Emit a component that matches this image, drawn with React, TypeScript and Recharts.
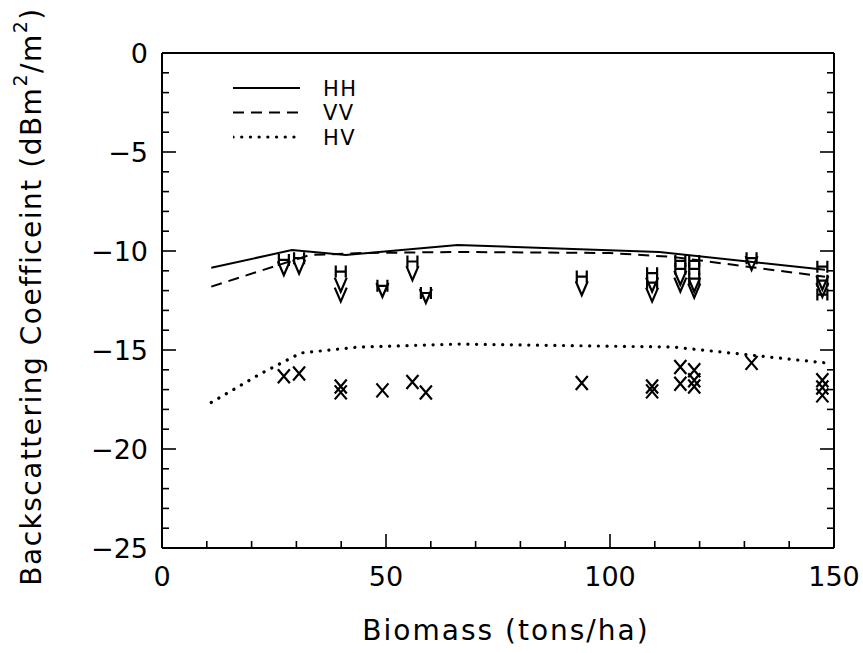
import React from 'react';
import { ComposedChart, Line, Scatter, XAxis, YAxis, Legend, Label } from 'recharts';

// axis ticks
const xTicks = [0, 10, 20, 30, 40, 50, 60, 70, 80, 90, 100, 110, 120, 130, 140, 150];
const xLabels = [0, 50, 100, 150];
const yTicks = Array.from({ length: 26 }, (_, i) => i - 25);
const yLabels = [-25, -20, -15, -10, -5, 0];

// model curves [biomass, sigma0]
const hhCurve = [[11, -10.85], [29, -9.95], [41, -10.2], [66, -9.7], [111, -10.05], [148, -10.95]];
const vvCurve = [[11, -11.8], [33, -10.2], [45, -10.1], [66, -10.05], [100, -10.1], [114, -10.3], [148, -11.3]];
const hvCurve = [[11, -17.65], [22, -16.2], [31, -15.15], [44, -14.85], [66, -14.7], [114, -14.85], [129, -15.2], [148, -15.65]];

// measurements
const hhPoints = [
  [27.2, -10.45], [30.6, -10.36], [39.9, -11.04], [49.2, -11.76], [55.9, -10.53], [58.9, -12.12],
  [93.7, -11.29], [109.4, -11.12], [109.4, -11.6], [115.7, -10.5], [115.7, -10.9], [118.8, -10.5],
  [118.8, -10.9], [118.8, -11.4], [131.6, -10.36], [147.4, -10.79], [147.4, -11.5], [147.4, -12.2],
];
const vvPoints = [
  [27.2, -10.87], [30.6, -10.79], [39.9, -11.7], [39.9, -12.2], [49.2, -11.97], [55.9, -11.12],
  [58.9, -12.27], [93.7, -11.88], [109.4, -11.7], [109.4, -12.2], [115.7, -11.35], [115.7, -11.7],
  [118.8, -11.7], [118.8, -12.0], [131.6, -10.61], [147.4, -11.6], [147.4, -11.97],
];
const hvPoints = [
  [27.2, -16.33], [30.6, -16.19], [39.9, -16.84], [39.9, -17.14], [49.2, -17.04], [55.9, -16.62],
  [58.9, -17.15], [93.7, -16.67], [109.4, -16.84], [109.4, -17.09], [115.7, -15.86], [115.7, -16.7],
  [118.8, -16.02], [118.8, -16.53], [118.8, -16.84], [131.6, -15.65], [147.4, -16.53], [147.4, -16.89],
  [147.4, -17.29],
];

const seriesNames = ['HH', 'VV', 'HV'];

const toXY = (pts: number[][]) => pts.map(([x, y]) => ({ x, y }));

const font = 'DejaVu Sans, sans-serif';

const lineStyles: Record<string, { dash?: string; width: number; cap: 'butt' | 'round' }> = {
  HH: { width: 2, cap: 'butt' },
  VV: { dash: '11 7', width: 2, cap: 'butt' },
  HV: { dash: '0.1 8.6', width: 3.2, cap: 'round' },
};

const minor = 7;
const major = 14;

const BottomTick = ({ x, y, payload }: any) => {
  const big = xLabels.includes(payload.value);
  return (
    <g>
      <line x1={x} x2={x} y1={y} y2={y - (big ? major : minor)} stroke="#000" strokeWidth={1.6} />
      {big && (
        <text x={x} y={y + 38} textAnchor="middle" fontSize={27} fontFamily={font} fill="#000">
          {payload.value}
        </text>
      )}
    </g>
  );
};

const TopTick = ({ x, y, payload }: any) => {
  const big = xLabels.includes(payload.value);
  return <line x1={x} x2={x} y1={y} y2={y + (big ? major : minor)} stroke="#000" strokeWidth={1.6} />;
};

const LeftTick = ({ x, y, payload }: any) => {
  const big = yLabels.includes(payload.value);
  const v = payload.value;
  return (
    <g>
      <line x1={x} x2={x + (big ? major : minor)} y1={y} y2={y} stroke="#000" strokeWidth={1.6} />
      {big && (
        <text x={x - 14} y={y + 10} textAnchor="end" fontSize={27} fontFamily={font} fill="#000">
          {v < 0 ? `\u2212${Math.abs(v)}` : v}
        </text>
      )}
    </g>
  );
};

const RightTick = ({ x, y, payload }: any) => {
  const big = yLabels.includes(payload.value);
  return <line x1={x} x2={x - (big ? major : minor)} y1={y} y2={y} stroke="#000" strokeWidth={1.6} />;
};

const markH = (p: any) => (
  <path
    d={`M${p.cx - 5},${p.cy - 6}v12M${p.cx + 5},${p.cy - 6}v12M${p.cx - 5},${p.cy}h10`}
    stroke="#000"
    strokeWidth={2.2}
    fill="none"
  />
);
const markV = (p: any) => (
  <path d={`M${p.cx - 6},${p.cy - 7}L${p.cx},${p.cy + 7}L${p.cx + 6},${p.cy - 7}`} stroke="#000" strokeWidth={2.2} fill="none" />
);
const markX = (p: any) => (
  <path
    d={`M${p.cx - 6},${p.cy - 7}L${p.cx + 6},${p.cy + 7}M${p.cx + 6},${p.cy - 7}L${p.cx - 6},${p.cy + 7}`}
    stroke="#000"
    strokeWidth={2.2}
    fill="none"
  />
);

const YTitle = ({ viewBox }: any) => {
  const cx = viewBox.x + viewBox.width - 131;
  const cy = viewBox.y + viewBox.height / 2 - 4;
  return (
    <text
      x={cx}
      y={cy}
      transform={`rotate(-90 ${cx} ${cy})`}
      textAnchor="middle"
      fontSize={28}
      letterSpacing={1.5}
      fontFamily={font}
      fill="#000"
      dominantBaseline="central"
    >
      Backscattering Coefficeint (dBm
      <tspan dy={-11} fontSize={19}>2</tspan>
      <tspan dy={11}>/m</tspan>
      <tspan dy={-11} fontSize={19}>2</tspan>
      <tspan dy={11}>)</tspan>
    </text>
  );
};

const XTitle = ({ viewBox }: any) => (
  <text
    x={viewBox.x + viewBox.width / 2 + 8}
    y={viewBox.y + 92}
    textAnchor="middle"
    fontSize={28}
    letterSpacing={2}
    fontFamily={font}
    fill="#000"
  >
    Biomass (tons/ha)
  </text>
);

const LegendBox = ({ payload }: any) => {
  const items = (payload || [])
    .filter((e: any) => seriesNames.includes(e.value))
    .sort((a: any, b: any) => seriesNames.indexOf(a.value) - seriesNames.indexOf(b.value));
  return (
    <svg width={200} height={80}>
      {items.map((e: any, i: number) => {
        const cy = 12 + i * 24.5;
        const s = lineStyles[e.value];
        return (
          <g key={e.value}>
            <line
              x1={0}
              x2={67}
              y1={cy}
              y2={cy}
              stroke="#000"
              strokeWidth={s.width}
              strokeDasharray={s.dash}
              strokeLinecap={s.cap}
            />
            <text x={90} y={cy + 7.5} fontSize={21} letterSpacing={1.5} fontFamily={font} fill="#000">
              {e.value}
            </text>
          </g>
        );
      })}
    </svg>
  );
};

const App = () => {
  const axisLine = { stroke: '#000', strokeWidth: 2 };
  const curves: [string, number[][]][] = [
    ['HH', hhCurve],
    ['VV', vvCurve],
    ['HV', hvCurve],
  ];
  return (
    <div style={{ position: 'absolute', left: 0, top: 0, width: 863, height: 653, background: '#fff' }}>
      <ComposedChart width={863} height={653} margin={{ top: 33, right: 19, bottom: 45, left: 82 }}>
        <XAxis
          type="number"
          dataKey="x"
          domain={[0, 150]}
          ticks={xTicks}
          interval={0}
          height={60}
          tickSize={0}
          tickMargin={0}
          tickLine={false}
          axisLine={axisLine}
          tick={<BottomTick />}
          allowDataOverflow
        >
          <Label content={XTitle} />
        </XAxis>
        <XAxis
          xAxisId="top"
          orientation="top"
          type="number"
          domain={[0, 150]}
          ticks={xTicks}
          interval={0}
          height={20}
          tickSize={0}
          tickMargin={0}
          tickLine={false}
          axisLine={axisLine}
          tick={<TopTick />}
          allowDataOverflow
        />
        <YAxis
          type="number"
          dataKey="y"
          domain={[-25, 0]}
          ticks={yTicks}
          interval={0}
          width={80}
          tickSize={0}
          tickMargin={0}
          tickLine={false}
          axisLine={axisLine}
          tick={<LeftTick />}
          allowDataOverflow
        >
          <Label content={YTitle} />
        </YAxis>
        <YAxis
          yAxisId="right"
          orientation="right"
          type="number"
          domain={[-25, 0]}
          ticks={yTicks}
          interval={0}
          width={10}
          tickSize={0}
          tickMargin={0}
          tickLine={false}
          axisLine={axisLine}
          tick={<RightTick />}
          allowDataOverflow
        />
        <Legend
          layout="vertical"
          align="center"
          verticalAlign="middle"
          content={LegendBox}
          wrapperStyle={{ position: 'absolute', left: 233, top: 76, width: 200, height: 80 }}
        />
        {curves.map(([name, pts]) => (
          <Line
            key={name}
            name={name}
            data={toXY(pts)}
            dataKey="y"
            type="linear"
            stroke="#000"
            strokeWidth={lineStyles[name].width}
            strokeDasharray={lineStyles[name].dash}
            strokeLinecap={lineStyles[name].cap}
            dot={false}
            activeDot={false}
            isAnimationActive={false}
          />
        ))}
        <Scatter name="HH data" data={toXY(hhPoints)} shape={markH} legendType="none" isAnimationActive={false} />
        <Scatter name="VV data" data={toXY(vvPoints)} shape={markV} legendType="none" isAnimationActive={false} />
        <Scatter name="HV data" data={toXY(hvPoints)} shape={markX} legendType="none" isAnimationActive={false} />
      </ComposedChart>
    </div>
  );
};

export default App;
